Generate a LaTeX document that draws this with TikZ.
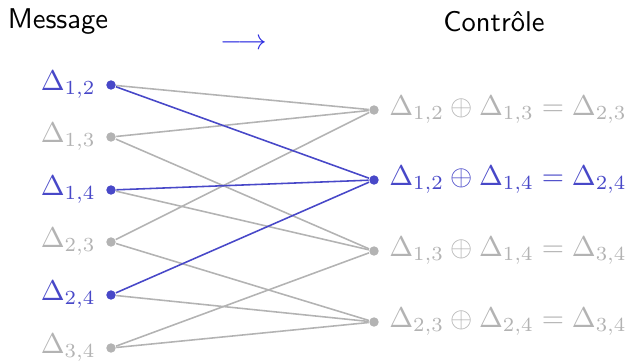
\documentclass[tikz,border=0pt]{standalone}
\usepackage{tikz}
\usetikzlibrary{positioning}
\definecolor{hiblue}{HTML}{4848C8}
\definecolor{loggray}{HTML}{B3B3B3}
\definecolor{arrblue}{HTML}{2A2AE0}
\tikzset{
  gdot/.style={circle,fill=loggray,minimum size=3.3pt,inner sep=0pt,
    label distance=0.4pt},
  bdot/.style={gdot,fill=hiblue},
  glab/.style={text=loggray},
  blab/.style={text=hiblue},
  gedge/.style={color=loggray,line width=0.55pt},
  bedge/.style={color=hiblue,line width=0.55pt},
  title/.style={font=\sffamily},
}

\begin{document}
\begin{tikzpicture}[x=0.35pt,y=-0.35pt]
  \useasboundingbox (0,0) rectangle (628,360);

  \node[title] (msg) at (58,22) {Message};
  \node[title] (ctl) at (494,22) {Contrôle};
  \node[text=arrblue] (arr) at (244,44) {$\longrightarrow$};

  % message bits
  \node[bdot,label={[blab]left:$\Delta_{1,2}$}] (m12) at (111,85) {};
  \node[gdot,label={[glab]left:$\Delta_{1,3}$}] (m13) at (111,137) {};
  \node[bdot,label={[blab]left:$\Delta_{1,4}$}] (m14) at (111,190) {};
  \node[gdot,label={[glab]left:$\Delta_{2,3}$}] (m23) at (111,242) {};
  \node[bdot,label={[blab]left:$\Delta_{2,4}$}] (m24) at (111,295) {};
  \node[gdot,label={[glab]left:$\Delta_{3,4}$}] (m34) at (111,348) {};

  % control bits
  \node[gdot,label={[glab]right:$\Delta_{1,2}\oplus\Delta_{1,3}=\Delta_{2,3}$}] (c1) at (374,110) {};
  \node[bdot,label={[blab]right:$\Delta_{1,2}\oplus\Delta_{1,4}=\Delta_{2,4}$}] (c2) at (374,180) {};
  \node[gdot,label={[glab]right:$\Delta_{1,3}\oplus\Delta_{1,4}=\Delta_{3,4}$}] (c3) at (374,251) {};
  \node[gdot,label={[glab]right:$\Delta_{2,3}\oplus\Delta_{2,4}=\Delta_{3,4}$}] (c4) at (374,322) {};

  \foreach \a/\b in {m12/c1,m13/c1,m23/c1,m13/c3,m14/c3,m34/c3,m23/c4,m24/c4,m34/c4}
    \draw[gedge] (\a) -- (\b);
  \foreach \a in {m12,m14,m24}
    \draw[bedge] (\a) -- (c2);
\end{tikzpicture}
\end{document}
